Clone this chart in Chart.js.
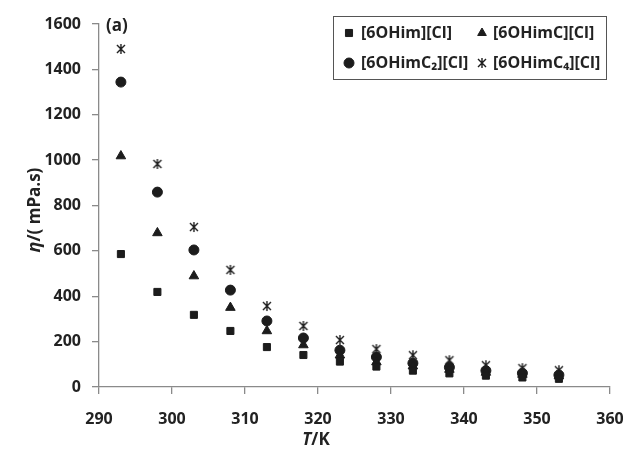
<!DOCTYPE html>
<html>
<head>
<meta charset="utf-8">
<script src="https://cdn.jsdelivr.net/npm/chart.js@4/dist/chart.umd.min.js"></script>
<style>
  html, body { margin: 0; padding: 0; background: #fff; }
  #wrap { width: 623px; height: 453px; }
</style>
</head>
<body>
<div id="wrap"><canvas id="viscosityChart" width="623" height="453"></canvas></div>
<script>
// Viscosity vs temperature data
const temperatures = [293, 298, 303, 308, 313, 318, 323, 328, 333, 338, 343, 348, 353];
const seriesLabels = ['[6OHim][Cl]', '[6OHimC][Cl]', '[6OHimC\u2082][Cl]', '[6OHimC\u2084][Cl]'];
const etaOHim   = [586, 419, 318, 247, 176, 141, 112, 90, 72, 60, 50, 42, 36];
const etaOHimC  = [1018, 679, 489, 350, 247, 185, 140, 110, 92, 77, 64, 55, 48];
const etaOHimC2 = [1344, 859, 604, 427, 291, 216, 162, 132, 105, 87, 72, 61, 53];
const etaOHimC4 = [1490, 983, 705, 516, 357, 269, 207, 167, 140, 118, 96, 83, 74];
const xTicks = [290, 300, 310, 320, 330, 340, 350, 360];
const yTicks = [0, 200, 400, 600, 800, 1000, 1200, 1400, 1600];

const inkColor = '#1c1c1c';
const axisColor = '#8a8a8a';
const fontFamily = '"Open Sans", "DejaVu Sans", sans-serif';

// asterisk marker (X with a vertical bar)
function makeStar(size) {
    const c = document.createElement('canvas');
    c.width = size; c.height = size;
    const g = c.getContext('2d');
    g.strokeStyle = inkColor;
    g.lineWidth = 1.4;
    const m = size / 2, r = size / 2 - 1;
    g.beginPath();
    g.moveTo(m, m - r); g.lineTo(m, m + r);
    g.moveTo(m - r * 0.8, m - r * 0.8); g.lineTo(m + r * 0.8, m + r * 0.8);
    g.moveTo(m + r * 0.8, m - r * 0.8); g.lineTo(m - r * 0.8, m + r * 0.8);
    g.stroke();
    return c;
}
const starMarker = makeStar(12);

function toPoints(values) {
    return temperatures.map((t, i) => ({ x: t, y: values[i] }));
}

const styles = [
    { pointStyle: 'rect', radius: 5 },
    { pointStyle: 'triangle', radius: 5.5 },
    { pointStyle: 'circle', radius: 5 },
    { pointStyle: starMarker, radius: 6 }
];
const seriesValues = [etaOHim, etaOHimC, etaOHimC2, etaOHimC4];

// custom legend box + panel label + axis titles with italic symbols
const decorations = {
    id: 'decorations',
    afterDraw(chart) {
        const ctx = chart.ctx;
        ctx.save();
        // legend box
        ctx.strokeStyle = '#555';
        ctx.lineWidth = 1;
        ctx.strokeRect(333.5, 16.5, 273, 63);
        const slots = [
            { mx: 349, tx: 361, y: 33 },
            { mx: 482, tx: 493, y: 33 },
            { mx: 349, tx: 361, y: 63 },
            { mx: 482, tx: 493, y: 63 }
        ];
        ctx.textBaseline = 'middle';
        ctx.textAlign = 'left';
        ctx.font = 'bold 16px ' + fontFamily;
        slots.forEach((s, i) => {
            const ds = chart.data.datasets[i];
            ctx.fillStyle = inkColor;
            ctx.strokeStyle = inkColor;
            Chart.helpers.drawPoint(ctx, {
                pointStyle: ds.pointStyle,
                radius: i === 3 ? 6 : 5,
                borderWidth: 1,
                rotation: 0
            }, s.mx, s.y);
            ctx.fillStyle = '#222';
            ctx.fillText(ds.label, s.tx, s.y);
        });

        // panel label
        ctx.font = 'bold 17px ' + fontFamily;
        ctx.fillStyle = '#222';
        ctx.fillText('(a)', 106, 26);

        // x title: T/K
        ctx.textAlign = 'left';
        ctx.textBaseline = 'middle';
        const xt = [['italic bold 17px ' + fontFamily, 'T'], ['bold 17px ' + fontFamily, '/K']];
        let w = 0;
        xt.forEach(p => { ctx.font = p[0]; w += ctx.measureText(p[1]).width; });
        let x = 316 - w / 2;
        xt.forEach(p => { ctx.font = p[0]; ctx.fillText(p[1], x, 440); x += ctx.measureText(p[1]).width; });

        // y title: eta/( mPa.s)
        ctx.translate(35, 210);
        ctx.rotate(-Math.PI / 2);
        const yt = [['italic bold 18px ' + fontFamily, '\u03b7'], ['bold 17px ' + fontFamily, '/( mPa.s)']];
        w = 0;
        yt.forEach(p => { ctx.font = p[0]; w += ctx.measureText(p[1]).width; });
        x = -w / 2;
        yt.forEach(p => { ctx.font = p[0]; ctx.fillText(p[1], x, 0); x += ctx.measureText(p[1]).width; });
        ctx.restore();
    }
};

new Chart(document.getElementById('viscosityChart'), {
    type: 'scatter',
    data: {
        datasets: seriesLabels.map((label, i) => ({
            label: label,
            data: toPoints(seriesValues[i]),
            pointStyle: styles[i].pointStyle,
            pointRadius: styles[i].radius,
            pointBackgroundColor: inkColor,
            pointBorderColor: inkColor,
            pointBorderWidth: 1,
            showLine: false
        }))
    },
    options: {
        responsive: false,
        animation: false,
        layout: { padding: { left: 0, top: 24, right: 13, bottom: 0 } },
        plugins: {
            legend: { display: false },
            tooltip: { enabled: false }
        },
        scales: {
            x: {
                type: 'linear',
                min: 290,
                max: 360,
                afterBuildTicks: scale => { scale.ticks = xTicks.map(v => ({ value: v })); },
                afterFit: scale => { scale.height = 66; scale.paddingRight = 0; scale.paddingLeft = 0; },
                border: { color: axisColor, width: 1.3 },
                grid: { drawOnChartArea: false, color: axisColor, tickLength: 7, lineWidth: 1.3 },
                ticks: {
                    color: '#222',
                    padding: 16,
                    font: { family: fontFamily, size: 16, weight: 'bold' },
                    callback: v => String(v)
                }
            },
            y: {
                min: 0,
                max: 1600,
                afterBuildTicks: scale => { scale.ticks = yTicks.map(v => ({ value: v })); },
                afterFit: scale => { scale.width = 99; scale.paddingTop = 0; scale.paddingBottom = 0; },
                border: { color: axisColor, width: 1.3 },
                grid: { drawOnChartArea: false, color: axisColor, tickLength: 7, lineWidth: 1.3 },
                ticks: {
                    color: '#222',
                    padding: 11,
                    font: { family: fontFamily, size: 16, weight: 'bold' },
                    callback: v => String(v)
                }
            }
        }
    },
    plugins: [decorations]
});
</script>
</body>
</html>
